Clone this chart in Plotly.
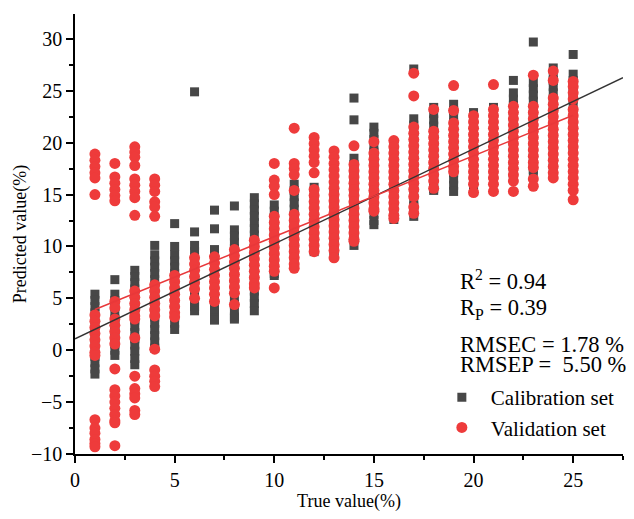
import plotly.graph_objects as go

# ---- data ----
true_values = list(range(1, 26))

# predicted values of the calibration set, one list per true value (1..25)
cal_pred = [
    [5.4, 4.8, 4.2, 3.6, 3.0, 2.4, 1.8, 1.2, 0.6, 0.0, -0.6, -1.2, -1.8, -2.3],
    [6.8, 5.4, 4.8, 4.2, 3.6, 3.0, 2.4, 1.8, 1.2, 0.6, 0.0, -0.5],
    [7.7, 7.1, 6.5, 5.9, 5.3, 4.7, 4.1, 3.5, 2.9, 2.3, 1.7, 1.1, 0.5, -0.1, -0.8, -1.4],
    [10.1, 9.2, 8.6, 8.0, 7.4, 6.8, 6.2, 5.6, 5.0, 4.4, 3.8, 3.2, 2.6, 2.0, 1.4, 0.8, 0.2],
    [12.2, 10.0, 9.2, 8.6, 8.0, 7.4, 6.8, 6.2, 5.6, 5.0, 4.4, 3.8, 3.2, 2.6, 2.0],
    [24.9, 11.4, 10.1, 9.5, 8.9, 8.3, 7.7, 7.1, 6.5, 5.9, 5.3, 4.7, 4.2, 3.8],
    [13.5, 11.7, 9.7, 9.1, 8.5, 7.9, 7.3, 6.7, 6.1, 5.5, 4.9, 4.3, 3.7, 3.1, 2.9],
    [13.9, 11.6, 11.0, 10.4, 9.8, 9.2, 8.6, 8.0, 7.4, 6.8, 6.2, 5.6, 5.0, 4.4, 3.8, 3.2, 3.0],
    [14.7, 14.1, 13.5, 12.9, 12.3, 11.7, 11.1, 10.5, 9.9, 9.3, 8.7, 8.1, 7.5, 6.9, 6.3, 5.7, 5.1, 4.5, 3.8],
    [14.0, 13.4, 12.8, 12.2, 11.6, 11.0, 10.4, 9.8, 9.2, 8.6, 8.0, 7.4, 7.2],
    [16.0, 15.4, 14.8, 14.2, 13.6, 13.0, 12.4, 11.8, 11.2, 10.6, 10.0, 9.4, 8.8],
    [15.7, 15.1, 14.5, 13.9, 13.3, 12.7, 12.1, 11.5, 10.9, 10.3, 9.7, 9.5],
    [15.6, 15.0, 14.4, 13.8, 13.2, 12.6, 12.0, 11.4, 10.8, 10.2, 9.6, 9.2],
    [24.3, 22.2, 18.5, 17.9, 17.3, 16.7, 16.1, 15.5, 14.9, 14.3, 13.7, 13.1, 12.5, 11.9, 11.3, 10.7, 10.1],
    [21.5, 20.9, 20.3, 19.7, 19.1, 18.5, 17.9, 17.3, 16.7, 16.1, 15.5, 14.9, 14.3, 13.7, 13.1, 12.5, 12.1],
    [19.8, 19.2, 18.6, 18.0, 17.4, 16.8, 16.2, 15.6, 15.0, 14.4, 13.8, 13.2, 12.6],
    [27.1, 22.3, 21.7, 21.1, 20.5, 19.9, 19.3, 18.7, 18.1, 17.5, 16.9, 16.3, 15.7, 15.1, 14.5, 13.9, 13.3, 12.9],
    [23.4, 22.8, 22.2, 21.6, 21.0, 20.4, 19.8, 19.2, 18.6, 18.0, 17.4, 16.8, 16.2, 15.6, 15.4],
    [23.7, 23.1, 22.5, 21.9, 21.3, 20.7, 20.1, 19.5, 18.9, 18.3, 17.7, 17.1, 16.5, 15.9, 15.3],
    [22.9, 22.3, 21.7, 21.1, 20.5, 19.9, 19.3, 18.7, 18.1, 17.5, 16.9, 16.3, 15.7, 15.3],
    [23.4, 22.8, 22.2, 21.6, 21.0, 20.4, 19.8, 19.2, 18.6, 18.0, 17.4, 16.8],
    [26.0, 24.8, 24.2, 23.6, 23.0, 22.4, 21.8, 21.2, 20.6, 20.0, 19.4, 18.8, 18.2, 17.6, 17.0, 16.6],
    [29.7, 25.8, 25.2, 24.6, 24.0, 23.4, 22.8, 22.2, 21.6, 21.0, 20.4, 19.8, 19.2, 18.6, 18.0, 17.4, 17.2],
    [27.2, 26.6, 26.0, 25.4, 24.8, 24.2, 23.6, 23.0, 22.4, 21.8, 21.2, 20.6, 20.0, 19.4, 18.8, 18.2, 17.6],
    [28.5, 26.6, 26.0, 25.4, 24.8, 24.2, 23.6, 23.0, 22.4, 21.8, 21.2, 20.6, 20.0, 19.4, 19.2],
]

# predicted values of the validation set, one list per true value (1..25)
val_pred = [
    [18.9, 18.3, 17.7, 17.1, 16.6, 15.0, 3.4, 2.8, 2.2, 1.6, 1.0, 0.4, -0.2, -0.5,
     -6.7, -7.5, -8.0, -8.6, -9.0, -9.3],
    [18.0, 16.7, 16.1, 15.5, 14.9, 14.4, 4.7, 4.1, 3.0, 2.4, 1.8, 1.2, 0.6,
     -1.8, -3.8, -4.4, -5.0, -5.6, -6.2, -6.8, -7.0, -9.2],
    [19.6, 19.1, 18.6, 17.8, 16.5, 15.9, 15.3, 14.7, 13.0, 5.7, 5.1, 4.5, 3.9, 3.3, 3.0, 1.2,
     -2.5, -3.7, -4.2, -4.6, -5.8, -6.2],
    [16.5, 15.9, 15.3, 14.3, 13.8, 12.9, 6.3, 5.7, 5.1, 4.5, 3.9, 3.3, 0.1,
     -1.9, -2.5, -3.0, -3.5],
    [7.2, 6.6, 6.0, 5.4, 4.8, 4.2, 3.6, 3.2],
    [8.9, 8.3, 7.7, 7.1, 6.5, 5.9, 5.0],
    [9.0, 8.4, 7.8, 7.2, 6.6, 6.0, 5.4, 4.7],
    [9.7, 9.1, 8.5, 7.9, 7.3, 6.7, 6.1, 5.5, 4.4],
    [10.6, 10.0, 9.4, 8.8, 8.2, 7.6, 7.0, 6.4, 6.0],
    [18.0, 16.4, 15.8, 15.0, 12.9, 12.3, 11.7, 11.1, 10.5, 9.9, 9.3, 8.7, 8.1, 7.6, 6.0],
    [21.4, 18.0, 17.5, 16.9, 15.4, 13.1, 12.5, 11.9, 11.3, 10.7, 10.1, 9.5, 8.9, 8.3, 7.9],
    [20.5, 19.9, 19.3, 18.7, 18.1, 17.1, 15.5, 14.9, 14.3, 13.7, 13.1, 12.5, 11.9, 11.3, 10.7, 10.1, 9.5],
    [19.2, 18.6, 18.0, 17.4, 16.8, 16.2, 15.6, 15.0, 14.4, 13.8, 13.2, 12.6, 12.0, 11.4, 10.8, 10.2, 9.6, 8.9],
    [19.7, 17.9, 17.3, 16.7, 16.1, 15.5, 14.9, 14.3, 13.7, 13.1, 12.5, 11.9, 11.3, 10.7, 10.5],
    [20.1, 19.0, 18.4, 17.8, 17.2, 16.6, 16.0, 15.4, 14.8, 14.2, 13.6, 13.4],
    [20.2, 19.6, 19.0, 18.4, 17.8, 17.2, 16.6, 16.0, 15.4, 14.8, 14.2, 13.6, 13.0, 12.7],
    [26.7, 24.5, 21.5, 20.9, 20.3, 19.7, 19.1, 18.5, 17.9, 17.3, 16.7, 16.1, 15.5, 14.8, 13.8, 13.2],
    [23.2, 21.1, 20.5, 19.9, 19.3, 18.7, 18.1, 17.5, 16.9, 16.3, 15.6],
    [25.5, 23.1, 21.9, 21.3, 20.7, 20.1, 19.5, 18.9, 18.3, 17.7, 17.2],
    [22.6, 22.0, 21.4, 20.8, 20.2, 19.6, 19.0, 18.4, 17.8, 17.2, 16.6, 16.0, 15.2],
    [25.6, 23.2, 22.6, 22.0, 21.4, 20.8, 20.2, 19.6, 19.0, 18.4, 17.8, 17.2, 16.6, 16.0, 15.3],
    [23.5, 22.9, 22.3, 21.7, 21.1, 20.5, 19.9, 19.3, 18.7, 18.1, 17.5, 16.9, 16.3, 15.3],
    [26.5, 23.5, 22.9, 22.3, 21.7, 21.1, 20.5, 19.9, 19.3, 18.7, 18.1, 17.6, 16.5, 15.8],
    [26.9, 26.0, 24.3, 23.7, 23.1, 22.5, 21.9, 21.3, 20.7, 20.1, 19.5, 18.9, 18.3, 17.7, 17.1, 16.6],
    [25.9, 25.4, 24.8, 24.2, 23.2, 22.6, 22.0, 21.4, 20.8, 20.2, 19.6, 19.0, 18.4, 17.8, 17.2,
     16.6, 16.0, 15.4, 14.5],
]

# fitted regression lines: (slope, intercept, x start, x end)
cal_fit = (0.915, 1.1, 0.0, 27.5)
val_fit = (0.78, 3.14, 1.0, 25.0)

stats_text = ["R<sup>2</sup> = 0.94", "R<sub>P</sub> = 0.39",
              "RMSEC = 1.78 %", "RMSEP =\u00a0 5.50 %"]
stats_y = [0.395, 0.33, 0.25, 0.203]

DARK = "#474747"
RED = "#EE3B3B"
FONT = "Liberation Serif, Times New Roman, serif"

cal_x, cal_y = [], []
for t, vals in zip(true_values, cal_pred):
    cal_x += [t] * len(vals)
    cal_y += vals
val_x, val_y = [], []
for t, vals in zip(true_values, val_pred):
    val_x += [t] * len(vals)
    val_y += vals

fig = go.Figure()
fig.add_trace(go.Scatter(x=cal_x, y=cal_y, mode="markers", name="Calibration set",
                         marker=dict(symbol="square", size=9, color=DARK,
                                     line=dict(width=0))))
fig.add_trace(go.Scatter(x=val_x, y=val_y, mode="markers", name="Validation set",
                         marker=dict(symbol="circle", size=11, color=RED,
                                     line=dict(width=0))))

for fit, col in ((cal_fit, "#333333"), (val_fit, "#E8383A")):
    s, b, x0, x1 = fit
    fig.add_trace(go.Scatter(x=[x0, x1], y=[s * x0 + b, s * x1 + b], mode="lines",
                             line=dict(color=col, width=1.5), showlegend=False,
                             hoverinfo="skip"))

for txt, yy in zip(stats_text, stats_y):
    fig.add_annotation(text=txt, xref="paper", yref="paper", x=0.699, y=yy,
                       xanchor="left", yanchor="middle", showarrow=False,
                       font=dict(family=FONT, size=22.5, color="black"))

axis_common = dict(showline=True, linecolor="black", linewidth=1.5, ticks="outside",
                   ticklen=7, tickwidth=1.5, tickcolor="black", showgrid=False,
                   zeroline=False, mirror=False, automargin=False,
                   tickfont=dict(family=FONT, size=20, color="black"),
                   minor=dict(ticks="outside", ticklen=4, tickwidth=1.5,
                              tickcolor="black", dtick=2.5, showgrid=False))

fig.update_xaxes(range=[0, 27.5], tick0=0, dtick=5,
                 title=dict(text="True value(%)", standoff=4,
                            font=dict(family=FONT, size=18, color="black")),
                 **axis_common)
fig.update_yaxes(range=[-10, 32.4], tick0=0, dtick=5,
                 title=dict(text="Predicted value(%)", standoff=0,
                            font=dict(family=FONT, size=18, color="black")),
                 **axis_common)

# the page body adds an 8 px offset at the top-left of the figure
fig.update_layout(
    width=626, height=511,
    margin=dict(l=67, r=11, t=6, b=65, autoexpand=False),
    plot_bgcolor="white", paper_bgcolor="white",
    showlegend=True,
    legend=dict(x=0.653, y=0.175, xanchor="left", yanchor="top",
                bgcolor="rgba(0,0,0,0)", borderwidth=0, itemwidth=48,
                font=dict(family=FONT, size=21, color="black"),
                tracegroupgap=0),
)

fig.write_html("out.html")
